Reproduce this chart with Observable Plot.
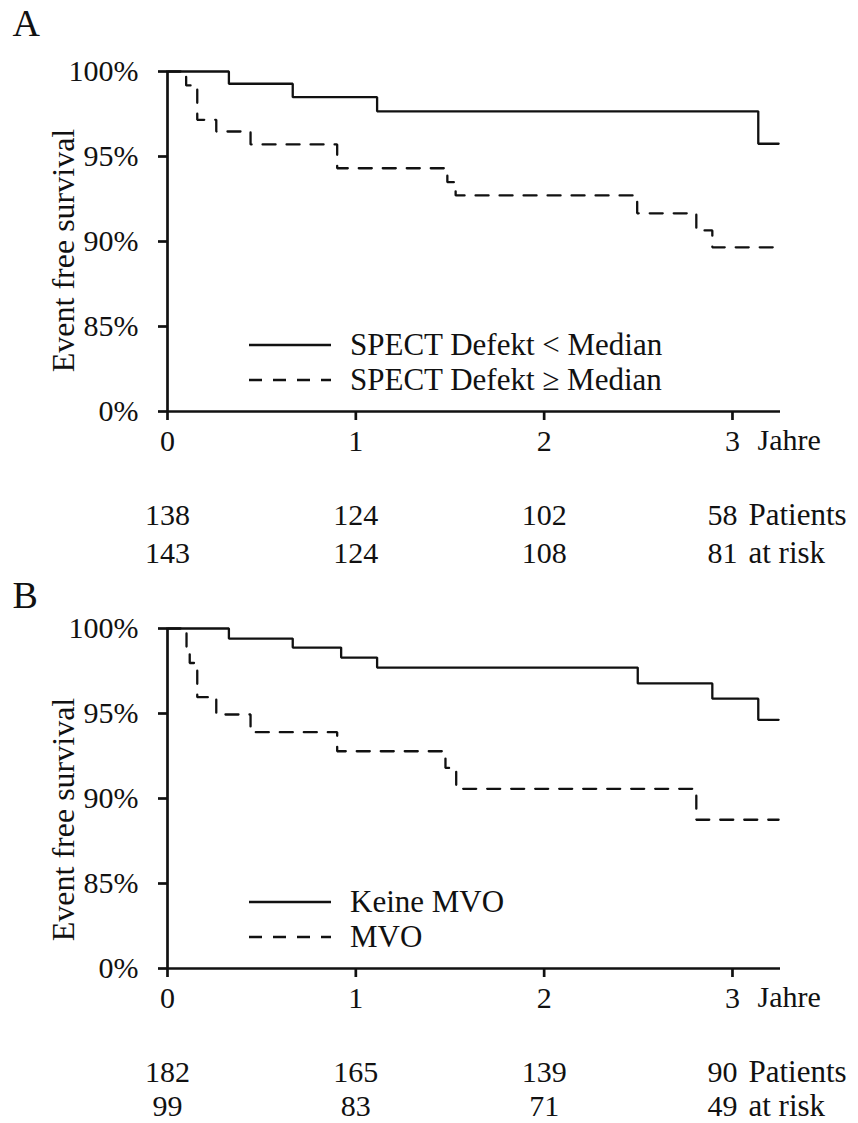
<!DOCTYPE html>
<html>
<head>
<meta charset="utf-8">
<script src="https://cdn.jsdelivr.net/npm/d3@7"></script>
<script src="https://cdn.jsdelivr.net/npm/@observablehq/plot@0.6"></script>
<style>
  html, body { margin: 0; padding: 0; background: #fff; }
  #chart svg { display: block; overflow: visible; }
</style>
</head>
<body>
<div id="chart"></div>
<script>
const FONT = '"Liberation Serif", "Times New Roman", Times, serif';
const INK = "#111";

// ---------- Data ----------
// Panel A: SPECT defect
const timeA1 = [0, 0.326, 0.665, 1.113, 3.137, 3.245];
const survA1 = [100, 99.28, 98.49, 97.66, 95.75, 95.75];
const timeA2 = [0, 0.099, 0.158, 0.259, 0.441, 0.901, 1.486, 1.530, 2.494, 2.808, 2.893, 3.245];
const survA2 = [100, 99.18, 97.16, 96.47, 95.71, 94.31, 93.49, 92.71, 91.66, 90.65, 89.66, 89.66];

// Panel B: MVO
const timeB1 = [0, 0.326, 0.665, 0.922, 1.113, 2.497, 2.893, 3.137, 3.245];
const survB1 = [100, 99.41, 98.88, 98.29, 97.70, 96.77, 95.87, 94.63, 94.63];
const timeB2 = [0, 0.101, 0.118, 0.158, 0.259, 0.441, 0.901, 1.476, 1.533, 2.808, 3.245];
const survB2 = [100, 98.68, 97.97, 95.96, 94.94, 93.90, 92.78, 91.80, 90.57, 88.75, 88.75];

const xTicks = [0, 1, 2, 3];
const xDomain = [0, 3.255];
const yTickValues = [80, 85, 90, 95, 100];   // broken axis: lowest tick stands for 0%
const yTickLabels = ["0%", "85%", "90%", "95%", "100%"];

const riskTimes = [0, 1, 2, 3];
const riskA1 = [138, 124, 102, 58];
const riskA2 = [143, 124, 108, 81];
const riskB1 = [182, 165, 139, 90];
const riskB2 = [99, 83, 71, 49];
const riskRowLabels = ["Patients", "at risk"];

const legendA = ["SPECT Defekt < Median", "SPECT Defekt \u2265 Median"];
const legendB = ["Keine MVO", "MVO"];
const panelLetters = ["A", "B"];
const yLabel = "Event free survival";
const xUnit = "Jahre";

// ---------- Helpers ----------
function series(times, surv) { return times.map((t, i) => ({time: t, surv: surv[i]})); }
function riskRow(values) { return riskTimes.map((t, i) => ({time: t, n: values[i]})); }
const yTickTable = yTickValues.map((v, i) => ({v, label: yTickLabels[i]}));

function legendMark(labels) {
  return function (...args) {
    const dims = args.find(a => a && typeof a === "object" && "marginLeft" in a && "height" in a);
    const bottom = dims.height - dims.marginBottom;
    const x0 = dims.marginLeft;
    const offsets = [-66, -31];
    const g = d3.create("svg:g");
    labels.forEach((lab, i) => {
      const y = bottom + offsets[i];
      g.append("line")
        .attr("x1", x0 + 82).attr("x2", x0 + 164)
        .attr("y1", y).attr("y2", y)
        .attr("stroke", INK).attr("stroke-width", 2.3)
        .attr("stroke-dasharray", i === 1 ? "13,11" : null);
      g.append("text")
        .attr("x", x0 + 183).attr("y", y).attr("dy", "0.32em")
        .attr("text-anchor", "start")
        .attr("fill", INK).attr("font-family", FONT).attr("font-size", 31)
        .text(lab);
    });
    return g.node();
  };
}

function panel({letter, s1, s2, r1, r2, legend, height, marginTop, marginBottom, labelDy, letterDy, row1, row2}) {
  const txt = {fill: INK, lineAnchor: "middle", fontFamily: FONT};
  return Plot.plot({
    width: 858,
    height,
    marginLeft: 167,
    marginRight: 78,
    marginTop,
    marginBottom,
    style: {fontFamily: FONT, fontSize: "30px", color: INK, background: "#fff", overflow: "visible"},
    x: {domain: xDomain},
    y: {domain: [yTickValues[0], yTickValues[yTickValues.length - 1]]},
    marks: [
      // y ticks (labels drawn separately)
      Plot.axisY({ticks: yTickValues, tickFormat: () => "", tickSize: 9, strokeWidth: 2.7, label: null}),
      Plot.text(yTickTable, {...txt, y: "v", text: "label", frameAnchor: "left", textAnchor: "end", dx: -29, fontSize: 30}),
      Plot.axisX({
        ticks: xTicks, tickFormat: d => String(d),
        tickSize: 9, tickPadding: 9, strokeWidth: 2.7,
        fontSize: 30, label: null
      }),
      Plot.ruleX([0], {stroke: INK, strokeWidth: 2.7}),
      Plot.ruleY([yTickValues[0]], {stroke: INK, strokeWidth: 2.7}),
      Plot.line(s2, {x: "time", y: "surv", curve: "step-after", stroke: INK, strokeWidth: 2.3, strokeDasharray: "13,11", strokeLinejoin: "miter"}),
      Plot.line(s1, {x: "time", y: "surv", curve: "step-after", stroke: INK, strokeWidth: 2.3, strokeLinejoin: "miter"}),
      // axis title / unit
      Plot.text([yLabel], {...txt, frameAnchor: "left", textAnchor: "middle", rotate: -90, dx: -104, dy: labelDy, fontSize: 32}),
      Plot.text([xUnit], {...txt, frameAnchor: "bottom-right", textAnchor: "start", dx: -23, dy: 29, fontSize: 30}),
      // panel letter
      Plot.text([letter], {...txt, frameAnchor: "top-left", textAnchor: "start", dx: -155, dy: letterDy, fontSize: 38}),
      // numbers at risk
      Plot.text(r1, {...txt, filter: d => d.time < 3, x: "time", text: "n", frameAnchor: "bottom", textAnchor: "middle", dy: row1, fontSize: 30}),
      Plot.text(r2, {...txt, filter: d => d.time < 3, x: "time", text: "n", frameAnchor: "bottom", textAnchor: "middle", dy: row2, fontSize: 30}),
      Plot.text(r1, {...txt, filter: d => d.time === 3, x: "time", text: "n", frameAnchor: "bottom", textAnchor: "end", dx: 5, dy: row1, fontSize: 30}),
      Plot.text(r2, {...txt, filter: d => d.time === 3, x: "time", text: "n", frameAnchor: "bottom", textAnchor: "end", dx: 5, dy: row2, fontSize: 30}),
      Plot.text([{time: 3, t: riskRowLabels[0]}], {...txt, x: "time", text: "t", frameAnchor: "bottom", textAnchor: "start", dx: 16, dy: row1, fontSize: 31}),
      Plot.text([{time: 3, t: riskRowLabels[1]}], {...txt, x: "time", text: "t", frameAnchor: "bottom", textAnchor: "start", dx: 16, dy: row2, fontSize: 31}),
      legendMark(legend)
    ]
  });
}

const chart = document.getElementById("chart");
chart.append(panel({
  letter: panelLetters[0],
  s1: series(timeA1, survA1), s2: series(timeA2, survA2),
  r1: riskRow(riskA1), r2: riskRow(riskA2),
  legend: legendA,
  height: 575, marginTop: 71, marginBottom: 164, labelDy: 9, letterDy: -48, row1: 104, row2: 142
}));
chart.append(panel({
  letter: panelLetters[1],
  s1: series(timeB1, survB1), s2: series(timeB2, survB2),
  r1: riskRow(riskB1), r2: riskRow(riskB2),
  legend: legendB,
  height: 548, marginTop: 53, marginBottom: 155, labelDy: 21, letterDy: -33, row1: 104, row2: 138
}));
</script>
</body>
</html>
